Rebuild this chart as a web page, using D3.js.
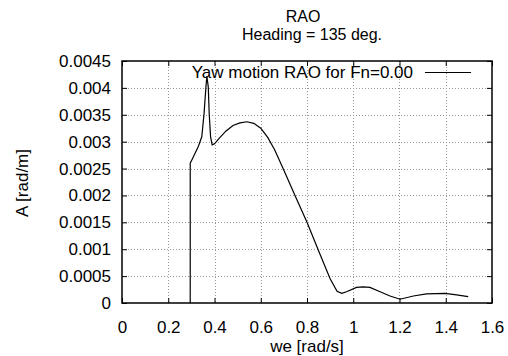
<!DOCTYPE html>
<html>
<head>
<meta charset="utf-8">
<script src="https://cdn.jsdelivr.net/npm/d3@7"></script>
<style>
    body{margin:0;background:#fff;}
    text{font-family:"Liberation Sans", Arial, sans-serif;fill:#000;}
</style>
</head>
<body>
<svg id="chart" width="508" height="356"></svg>
<script>
// data
const we = [0.295, 0.295, 0.303, 0.33, 0.345, 0.355, 0.363, 0.367, 0.373, 0.377, 0.383, 0.39, 0.40, 0.42, 0.45, 0.48, 0.51, 0.54, 0.57, 0.60, 0.63, 0.66, 0.70, 0.75, 0.80, 0.85, 0.90, 0.93, 0.95, 0.971, 1.014, 1.043, 1.072, 1.116, 1.159, 1.202, 1.26, 1.317, 1.397, 1.447, 1.497];
const amp = [0, 0.0026, 0.00267, 0.00291, 0.00309, 0.00353, 0.00402, 0.00422, 0.00402, 0.00353, 0.00309, 0.00294, 0.00296, 0.00306, 0.0032, 0.0033, 0.00335, 0.00337, 0.00334, 0.00325, 0.00308, 0.00285, 0.00247, 0.00198, 0.0015, 0.00097, 0.00045, 0.00022, 0.00018, 0.00021, 0.00029, 0.0003, 0.00029, 0.00021, 0.00013, 0.00007, 0.00013, 0.00017, 0.00018, 0.00015, 0.00012];
const xTicks = [0, 0.2, 0.4, 0.6, 0.8, 1, 1.2, 1.4, 1.6];
const yTicks = [0, 0.0005, 0.001, 0.0015, 0.002, 0.0025, 0.003, 0.0035, 0.004, 0.0045];
const seriesName = "Yaw motion RAO for Fn=0.00";
//
const svg = d3.select("#chart");
const pL = 122, pR = 492, pT = 61, pB = 303;//plot box
const fs = 17;//font size
//
const x = d3.scaleLinear().domain([0, 1.6]).range([pL, pR]);
const y = d3.scaleLinear().domain([0, 0.0045]).range([pB, pT]);
//
// grid (dotted), skip the ones on the border
const grid = svg.append("g").attr("stroke", "#999").attr("stroke-width", 1).attr("stroke-dasharray", "1,2");
grid.selectAll("line.gx").data(xTicks.slice(1, -1)).join("line")
    .attr("x1", d => Math.round(x(d)) + 0.5).attr("x2", d => Math.round(x(d)) + 0.5)
    .attr("y1", pT).attr("y2", pB);
grid.selectAll("line.gy").data(yTicks.slice(1, -1)).join("line")
    .attr("x1", pL).attr("x2", pR)
    .attr("y1", d => Math.round(y(d)) + 0.5).attr("y2", d => Math.round(y(d)) + 0.5);
//
// axes: ticks inward, mirrored
const tl = 5;
const fmtY = d => d === 0 ? "0" : String(+d.toFixed(4));
const axL = svg.append("g").attr("transform", `translate(${pL},0)`)
    .call(d3.axisLeft(y).tickValues(yTicks).tickSizeInner(-tl).tickSizeOuter(0).tickPadding(11).tickFormat(fmtY));
const axR = svg.append("g").attr("transform", `translate(${pR},0)`)
    .call(d3.axisRight(y).tickValues(yTicks).tickSizeInner(-tl).tickSizeOuter(0).tickFormat(""));
const axB = svg.append("g").attr("transform", `translate(0,${pB})`)
    .call(d3.axisBottom(x).tickValues(xTicks).tickSizeInner(-tl).tickSizeOuter(0).tickPadding(18).tickFormat(d => String(d)));
const axT = svg.append("g").attr("transform", `translate(0,${pT})`)
    .call(d3.axisTop(x).tickValues(xTicks).tickSizeInner(-tl).tickSizeOuter(0).tickFormat(""));
[axL, axR, axB, axT].forEach(a => {
    a.select(".domain").remove();
    a.selectAll("line").attr("stroke", "#000");
    a.selectAll("text").attr("font-size", fs).attr("font-family", null).attr("fill", "#000");
});
//
// border
svg.append("rect").attr("x", pL).attr("y", pT).attr("width", pR - pL).attr("height", pB - pT)
    .attr("fill", "none").attr("stroke", "#000").attr("stroke-width", 1.5);
//
// curve
const line = d3.line().x((d, i) => x(we[i])).y(d => y(d));
svg.append("path").attr("d", line(amp)).attr("fill", "none").attr("stroke", "#000").attr("stroke-width", 1.2);
//
// key
svg.append("text").attr("x", 413).attr("y", 78).attr("text-anchor", "end").attr("font-size", fs).text(seriesName);
svg.append("line").attr("x1", 425).attr("x2", 471).attr("y1", 72.5).attr("y2", 72.5).attr("stroke", "#000").attr("stroke-width", 1.2);
//
// titles
svg.append("text").attr("x", 303).attr("y", 21.5).attr("text-anchor", "middle").attr("font-size", 16).text("RAO");
svg.append("text").attr("x", 312).attr("y", 40).attr("text-anchor", "middle").attr("font-size", 16).text("Heading = 135 deg.");
svg.append("text").attr("x", (pL + pR) / 2).attr("y", 352).attr("text-anchor", "middle").attr("font-size", fs).text("we [rad/s]");
svg.append("text").attr("transform", `translate(28,183) rotate(-90)`).attr("text-anchor", "middle").attr("font-size", fs).text("A [rad/m]");
</script>
</body>
</html>
